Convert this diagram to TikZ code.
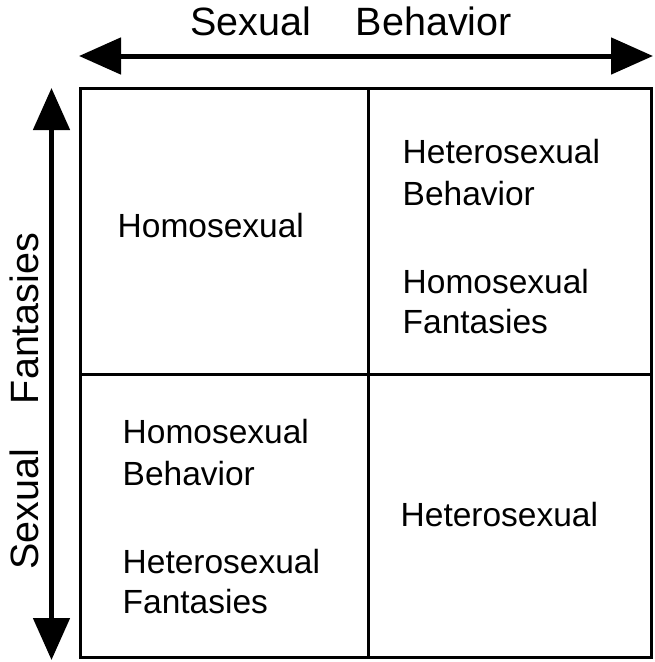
\documentclass[tikz,border=0pt]{standalone}
\usepackage{fontspec}
\setmainfont{Liberation Sans}
\usetikzlibrary{arrows.meta}
\tikzset{
  frame/.style={line width=3pt, line join=miter},
  bigarrow/.style={line width=5pt, {Triangle[length=42pt,width=36pt]}-{Triangle[length=42pt,width=36pt]}},
  celltext/.style={anchor=base west, inner sep=0pt, font=\fontsize{33.5}{40}\selectfont},
  axistext/.style={anchor=base west, inner sep=0pt, font=\fontsize{39.5}{46}\selectfont}
}
\begin{document}
\begin{tikzpicture}[x=1pt,y=-1pt]
\useasboundingbox (0,0) rectangle (654,662);
% grid
\coordinate (tl) at (80,88.5);
\coordinate (br) at (651,657);
\draw[frame] (tl) rectangle (br);
\coordinate (vt) at (368,88.5);
\coordinate (vb) at (368,657);
\coordinate (hl) at (80,374.5);
\coordinate (hr) at (651,374.5);
\draw[frame] (vt) -- (vb);
\draw[frame] (hl) -- (hr);
% arrows
\coordinate (al) at (79,56);
\coordinate (ar) at (653,56);
\draw[bigarrow] (al) -- (ar);
\coordinate (at) at (51.5,88);
\coordinate (ab) at (51.5,660);
\draw[bigarrow] (at) -- (ab);
% axis labels
\node[axistext] (title) at (190,35) {Sexual\hspace{45pt}Behavior};
\node[axistext, rotate=90] (side) at (38,570) {Sexual\hspace{45pt}Fantasies};
% cells
\node[celltext] (q1) at (117.5,237) {Homosexual};
\node[celltext] (q2a) at (402.5,163.3) {Heterosexual};
\node[celltext] (q2b) at (402.5,205) {Behavior};
\node[celltext] (q2c) at (402.5,293.3) {Homosexual};
\node[celltext] (q2d) at (402.5,333.3) {Fantasies};
\node[celltext] (q3a) at (122.5,443.5) {Homosexual};
\node[celltext] (q3b) at (122.5,485) {Behavior};
\node[celltext] (q3c) at (122.5,573) {Heterosexual};
\node[celltext] (q3d) at (122.5,613.3) {Fantasies};
\node[celltext] (q4) at (400.5,526) {Heterosexual};
\end{tikzpicture}
\end{document}
